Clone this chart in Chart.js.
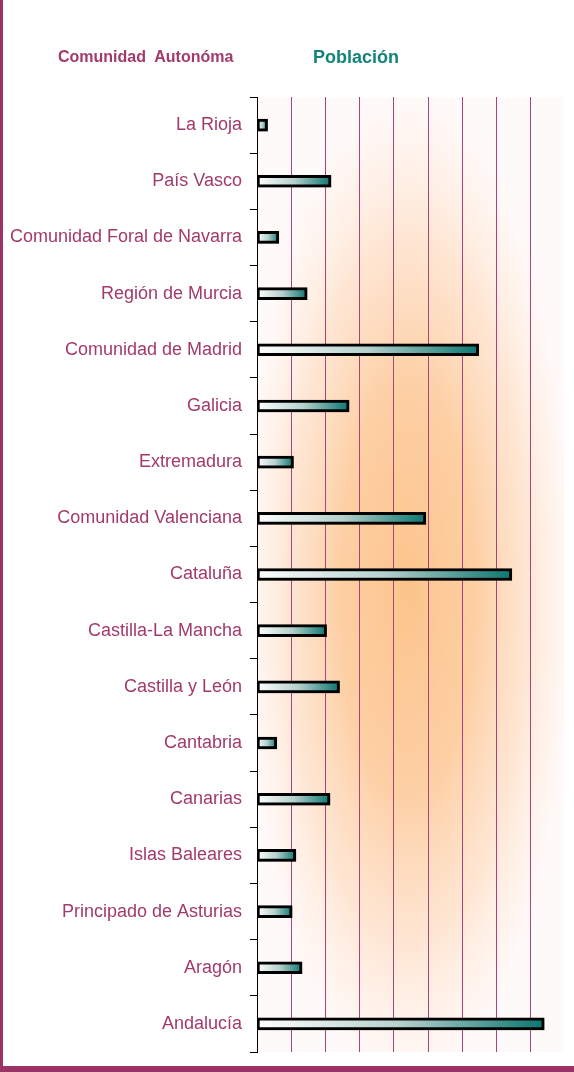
<!DOCTYPE html>
<html>
<head>
<meta charset="utf-8">
<script src="https://cdn.jsdelivr.net/npm/chart.js@4"></script>
<style>
  html, body { margin: 0; padding: 0; background: #fff; }
  #wrap { position: relative; width: 574px; height: 1072px; overflow: hidden; }
  #wrap canvas { position: absolute; left: 0; top: 0; }
  .hdr { position: absolute; font-family: 'Liberation Sans', Arial, sans-serif; font-weight: bold; white-space: pre; line-height: 1; }
  #h1 { left: 58px; top: 49px; font-size: 16px; color: #a23a6c; }
  #h2 { left: 313px; top: 48px; font-size: 18px; color: #12847b; }
  #bl { position: absolute; left: 0; top: 0; width: 3px; height: 1072px; background: #9b3465; }
  #bb { position: absolute; left: 0; top: 1066px; width: 574px; height: 6px; background: #9b3465; }
</style>
</head>
<body>
<div id="wrap">
  <canvas id="chart" width="574" height="1072"></canvas>
  <div class="hdr" id="h1">Comunidad  Autonóma</div>
  <div class="hdr" id="h2">Población</div>
  <div id="bl"></div>
  <div id="bb"></div>
</div>
<script>
// population per region, millions
const regions = [
  'La Rioja', 'País Vasco', 'Comunidad Foral de Navarra', 'Región de Murcia',
  'Comunidad de Madrid', 'Galicia', 'Extremadura', 'Comunidad Valenciana',
  'Cataluña', 'Castilla-La Mancha', 'Castilla y León', 'Cantabria',
  'Canarias', 'Islas Baleares', 'Principado de Asturias', 'Aragón', 'Andalucía'
];
const population = [
  0.31, 2.17, 0.64, 1.47,
  6.50, 2.70, 1.07, 4.95,
  7.47, 2.04, 2.42, 0.58,
  2.14, 1.14, 1.03, 1.32, 8.42
];
const xMax = 9;

const maroon = '#a23a6c';
const gridMaroon = '#a8447b';

function barFill(c) {
  const chart = c.chart;
  if (!chart.chartArea) return '#0c7770';
  const x = chart.scales.x;
  const x0 = x.getPixelForValue(0);
  const x1 = x.getPixelForValue(c.raw);
  const g = chart.ctx.createLinearGradient(x0, 0, x1, 0);
  g.addColorStop(0, '#ffffff');
  g.addColorStop(0.5, '#b5d0cd');
  g.addColorStop(1, '#0b7670');
  return g;
}

const ctx = document.getElementById('chart').getContext('2d');
new Chart(ctx, {
  type: 'bar',
  data: {
    labels: regions,
    datasets: [{
      label: 'Población',
      data: population,
      backgroundColor: barFill,
      borderColor: '#000',
      borderWidth: 3,
      borderSkipped: false,
      barThickness: 12
    }]
  },
  options: {
    indexAxis: 'y',
    responsive: false,
    animation: false,
    layout: { padding: { left: 0, right: 10, top: 97, bottom: 20 } },
    plugins: {
      legend: { display: false },
      tooltip: { enabled: false }
    },
    scales: {
      x: {
        min: 0,
        max: xMax,
        ticks: { display: false, stepSize: 1 },
        border: { display: false },
        grid: { display: false },
        afterFit(scale) { scale.height = 0; }
      },
      y: {
        border: { display: true, color: '#000', width: 1 },
        grid: { offset: true, drawOnChartArea: false, drawTicks: true, tickLength: 7, color: '#000' },
        ticks: {
          autoSkip: false,
          padding: 8,
          color: maroon,
          font: { family: "'Liberation Sans', Arial, sans-serif", size: 18 }
        },
        afterFit(scale) { scale.width = 257; }
      }
    }
  },
  plugins: [{
    id: 'glow',
    beforeDraw(chart) {
      const { ctx, chartArea: { left, right, top, bottom } } = chart;
      ctx.save();
      ctx.fillStyle = '#fffafa';
      ctx.fillRect(left, top, right - left, bottom - top);
      ctx.beginPath();
      ctx.rect(left, top, right - left, bottom - top);
      ctx.clip();
      const cx = 408, cy = 590, rx = 172, ry = 510;
      ctx.translate(cx, cy);
      ctx.scale(1, ry / rx);
      const g = ctx.createRadialGradient(0, 0, 0, 0, 0, rx);
      g.addColorStop(0, 'rgba(252,196,140,1)');
      g.addColorStop(0.4, 'rgba(253,205,160,0.95)');
      g.addColorStop(0.7, 'rgba(254,222,196,0.7)');
      g.addColorStop(0.88, 'rgba(255,236,222,0.4)');
      g.addColorStop(1, 'rgba(255,245,240,0)');
      ctx.fillStyle = g;
      ctx.fillRect(-rx, -rx, 2 * rx, 2 * rx);
      ctx.restore();
    }
  }, {
    // vertical lines at each x tick, drawn from the x scale
    id: 'valueLines',
    beforeDatasetsDraw(chart) {
      const { ctx, chartArea: { top, bottom }, scales: { x } } = chart;
      ctx.save();
      ctx.strokeStyle = gridMaroon;
      ctx.lineWidth = 1;
      x.ticks.forEach(t => {
        if (t.value <= 0 || t.value >= xMax) return;
        const px = Math.round(x.getPixelForValue(t.value)) + 0.5;
        ctx.beginPath();
        ctx.moveTo(px, top);
        ctx.lineTo(px, bottom);
        ctx.stroke();
      });
      ctx.restore();
    }
  }, {
    id: 'barShadow',
    beforeDatasetsDraw(chart) {
      const c = chart.ctx;
      c.save();
      c.shadowColor = 'rgba(0,0,0,0.3)';
      c.shadowBlur = 2;
      c.shadowOffsetX = 1;
      c.shadowOffsetY = 1;
    },
    afterDatasetsDraw(chart) {
      chart.ctx.restore();
    }
  }]
});
</script>
</body>
</html>
